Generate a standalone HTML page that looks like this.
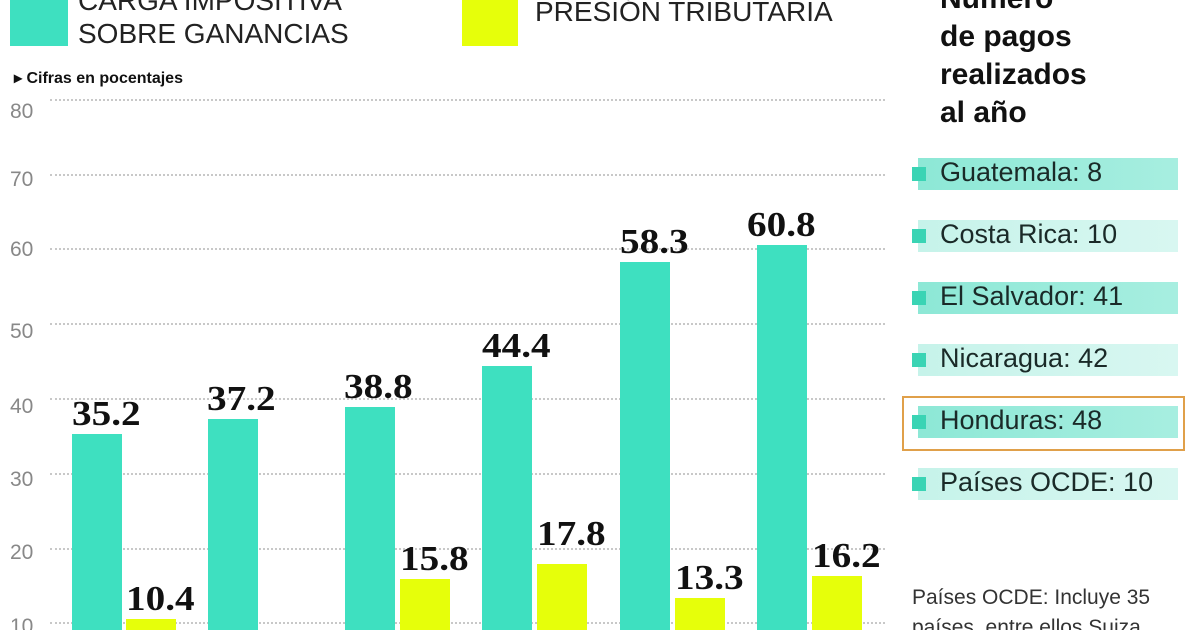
<!DOCTYPE html>
<html><head><meta charset="utf-8"><style>
html,body{margin:0;padding:0;width:1200px;height:630px;overflow:hidden}
#w{position:relative;width:1200px;height:630px;overflow:hidden;background:#fff;font-family:"Liberation Sans",sans-serif}
.a{position:absolute;white-space:nowrap}
.g{position:absolute;left:50px;width:835px;border-top:2px dotted #c8c8c8}
.yl{position:absolute;left:10px;font-size:21px;color:#888}
.b{position:absolute;width:50px;bottom:0}
.t{background:#3ee0c0}.y{background:#e6ff0a}
.v{position:absolute;font-family:"Liberation Serif",serif;font-weight:bold;font-size:35px;color:#111;white-space:nowrap;transform:scaleX(1.12);transform-origin:left}
.row{position:absolute;left:918px;width:260px;height:32px}
.dk{background:linear-gradient(90deg,#8de8d6,#a7eee0)}
.lt{background:linear-gradient(90deg,#c6f3ea,#d8f7f1)}
.sq{position:absolute;left:912px;width:14px;height:14px;background:#3ad4b4}
.rt{position:absolute;left:940px;font-size:27px;color:#1a2a28}
</style></head><body><div id="w">
<div class="a t" style="left:10px;top:0;width:58px;height:46px"></div>
<div class="a" style="left:78px;top:-16px;font-size:28px;color:#222;line-height:33px">CARGA IMPOSITIVA<br>SOBRE GANANCIAS</div>
<div class="a y" style="left:462px;top:0;width:56px;height:46px"></div>
<div class="a" style="left:535px;top:-4px;font-size:28px;color:#222">PRESIÓN TRIBUTARIA</div>
<div class="a" style="left:14px;top:68px;font-size:16px;font-weight:bold;color:#111">▸ Cifras en pocentajes</div>

<div class="g" style="top:99px"></div><div class="yl" style="top:100px">80</div>
<div class="g" style="top:174px"></div><div class="yl" style="top:168px">70</div>
<div class="g" style="top:248px"></div><div class="yl" style="top:238px">60</div>
<div class="g" style="top:323px"></div><div class="yl" style="top:320px">50</div>
<div class="g" style="top:398px"></div><div class="yl" style="top:395px">40</div>
<div class="g" style="top:473px"></div><div class="yl" style="top:468px">30</div>
<div class="g" style="top:548px"></div><div class="yl" style="top:541px">20</div>
<div class="g" style="top:622px"></div><div class="yl" style="top:615px">10</div>

<div class="b t" style="left:72px;top:434px"></div><div class="v" style="left:72px;top:394px">35.2</div>
<div class="b y" style="left:126px;top:619px"></div><div class="v" style="left:126px;top:579px">10.4</div>
<div class="b t" style="left:208px;top:419px"></div><div class="v" style="left:207px;top:379px">37.2</div>
<div class="b t" style="left:345px;top:407px"></div><div class="v" style="left:344px;top:367px">38.8</div>
<div class="b y" style="left:400px;top:579px"></div><div class="v" style="left:400px;top:539px">15.8</div>
<div class="b t" style="left:482px;top:366px"></div><div class="v" style="left:482px;top:326px">44.4</div>
<div class="b y" style="left:537px;top:564px"></div><div class="v" style="left:537px;top:514px">17.8</div>
<div class="b t" style="left:620px;top:262px"></div><div class="v" style="left:620px;top:222px">58.3</div>
<div class="b y" style="left:675px;top:598px"></div><div class="v" style="left:675px;top:558px">13.3</div>
<div class="b t" style="left:757px;top:245px"></div><div class="v" style="left:747px;top:205px">60.8</div>
<div class="b y" style="left:812px;top:576px"></div><div class="v" style="left:812px;top:536px">16.2</div>

<div class="a" style="left:940px;top:-20px;font-size:30px;font-weight:bold;color:#111;line-height:38px">Número<br>de pagos<br>realizados<br>al año</div>

<div class="row dk" style="top:158px"></div><div class="sq" style="top:167px"></div><div class="rt" style="top:157px">Guatemala: 8</div>
<div class="row lt" style="top:220px"></div><div class="sq" style="top:229px"></div><div class="rt" style="top:219px">Costa Rica: 10</div>
<div class="row dk" style="top:282px"></div><div class="sq" style="top:291px"></div><div class="rt" style="top:281px">El Salvador: 41</div>
<div class="row lt" style="top:344px"></div><div class="sq" style="top:353px"></div><div class="rt" style="top:343px">Nicaragua: 42</div>
<div class="row dk" style="top:406px"></div><div class="sq" style="top:415px"></div><div class="rt" style="top:405px">Honduras: 48</div>
<div class="a" style="left:902px;top:396px;width:279px;height:51px;border:2px solid #e0a04a"></div>
<div class="row lt" style="top:468px"></div><div class="sq" style="top:477px"></div><div class="rt" style="top:467px">Países OCDE: 10</div>

<div class="a" style="left:912px;top:583px;font-size:21px;color:#333;line-height:30px">Países OCDE: Incluye 35<br>países, entre ellos Suiza</div>
</div></body></html>
